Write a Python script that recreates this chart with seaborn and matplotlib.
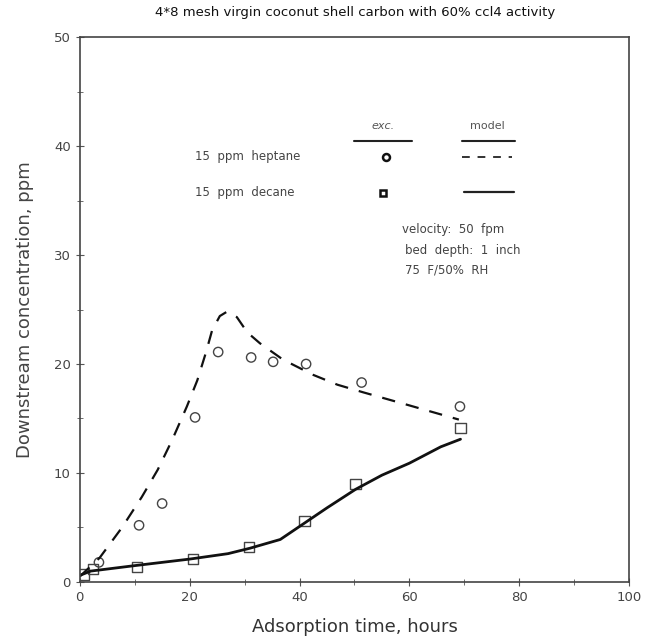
import matplotlib
matplotlib.use('Agg')
import matplotlib.pyplot as plt
import numpy as np
import pandas as pd
import seaborn as sns

heptane_exp_t = [3.5, 10.8, 15.0, 21.0, 25.2, 31.2, 35.2, 41.2, 51.3, 69.2]
heptane_exp_c = [1.8, 5.2, 7.2, 15.1, 21.1, 20.6, 20.2, 20.0, 18.3, 16.1]
decane_exp_t = [0.7, 2.4, 10.4, 20.6, 30.8, 40.9, 50.2, 69.3]
decane_exp_c = [0.7, 1.2, 1.4, 2.1, 3.2, 5.6, 9.0, 14.1]

# model curves
heptane_mod_t = [0.0, 3.6, 7.7, 11.3, 14.2, 16.8, 19.5, 21.4, 23.0, 24.1, 25.5, 26.8,
                 28.6, 30.5, 32.8, 37.0, 42.5, 46.9, 51.6, 60.0, 69.0]
heptane_mod_c = [0.5, 2.2, 5.0, 7.8, 10.3, 13.0, 16.1, 18.5, 21.1, 23.1, 24.4, 24.8,
                 24.3, 22.9, 21.9, 20.4, 19.0, 18.1, 17.4, 16.2, 14.9]
decane_mod_t = [0.0, 2.0, 10.0, 20.0, 27.0, 31.0, 36.5, 40.9, 45.0, 50.2, 55.0, 60.0, 65.7, 69.3]
decane_mod_c = [0.6, 1.0, 1.5, 2.1, 2.6, 3.1, 3.9, 5.4, 6.8, 8.5, 9.8, 10.9, 12.4, 13.1]

x_ticks = [0, 20, 40, 60, 80, 100]
y_ticks = [0, 10, 20, 30, 40, 50]

sns.set_style('ticks')
plt.rcParams['font.family'] = ['DejaVu Sans']

fig = plt.figure(figsize=(6.48, 6.44), dpi=100)
ax = fig.add_axes([0.123, 0.0963, 0.848, 0.8462])

hm = pd.DataFrame({'t': heptane_mod_t, 'c': heptane_mod_c})
dm = pd.DataFrame({'t': decane_mod_t, 'c': decane_mod_c})
he = pd.DataFrame({'t': heptane_exp_t, 'c': heptane_exp_c})
de = pd.DataFrame({'t': decane_exp_t, 'c': decane_exp_c})

sns.lineplot(data=hm, x='t', y='c', sort=False, ax=ax, color='#111111', lw=1.6,
             linestyle=(0, (6, 5)))
sns.lineplot(data=dm, x='t', y='c', sort=False, ax=ax, color='#111111', lw=2.0)
sns.scatterplot(data=he, x='t', y='c', ax=ax, marker='o', s=45, facecolor='none',
                edgecolor='#444444', linewidth=1.0)
sns.scatterplot(data=de, x='t', y='c', ax=ax, marker='s', s=55, facecolor='none',
                edgecolor='#444444', linewidth=1.0)

ax.set_xlim(0, 100)
ax.set_ylim(0, 50)
ax.set_xticks(x_ticks)
ax.set_yticks(y_ticks)
ax.set_xticks(np.arange(10, 100, 20), minor=True)
ax.set_yticks(np.arange(5, 50, 10), minor=True)
ax.tick_params(which='both', direction='inout', colors='#555555', labelcolor='#444444',
               labelsize=9.5)
ax.tick_params(which='major', length=6)
ax.tick_params(which='minor', length=4)
for s in ax.spines.values():
    s.set_color('#444444')
    s.set_linewidth(1.2)

ax.set_xlabel('Adsorption time, hours', fontsize=13, color='#333333', labelpad=10)
ax.set_ylabel('Downstream concentration, ppm', fontsize=13, color='#444444', labelpad=14)
fig.suptitle('4*8 mesh virgin coconut shell carbon with 60% ccl4 activity',
             fontsize=9.5, x=0.548, y=0.99, color='#111111')

# hand-drawn legend table
tr = ax.transAxes
ax.text(0.552, 0.836, 'exc.', transform=tr, ha='center', va='center', fontsize=8,
        style='italic', color='#555555')
ax.plot([0.50, 0.605], [0.809, 0.809], transform=tr, color='#222222', lw=1.5)
ax.text(0.741, 0.836, 'model', transform=tr, ha='center', va='center', fontsize=8,
        color='#555555')
ax.plot([0.696, 0.792], [0.809, 0.809], transform=tr, color='#222222', lw=1.5)
ax.text(0.209, 0.780, '15  ppm  heptane', transform=tr, ha='left', va='center',
        fontsize=8.5, color='#444444')
ax.text(0.209, 0.714, '15  ppm  decane', transform=tr, ha='left', va='center',
        fontsize=8.5, color='#444444')
ax.plot([0.557], [0.780], transform=tr, marker='o', ms=5, mfc='none', mec='#111111', mew=1.8)
ax.plot([0.552], [0.714], transform=tr, marker='s', ms=4.5, mfc='none', mec='#111111', mew=1.8)
ax.plot([0.696, 0.787], [0.780, 0.780], transform=tr, color='#333333', lw=1.4,
        linestyle=(0, (4, 4)))
ax.plot([0.700, 0.790], [0.716, 0.716], transform=tr, color='#222222', lw=1.6)

ax.text(0.587, 0.646, 'velocity:  50  fpm', transform=tr, fontsize=8.5, va='center',
        color='#444444')
ax.text(0.592, 0.609, 'bed  depth:  1  inch', transform=tr, fontsize=8.5, va='center',
        color='#444444')
ax.text(0.592, 0.572, '75  F/50%  RH', transform=tr, fontsize=8.5, va='center',
        color='#444444')

fig.savefig('out.png', dpi=100)
